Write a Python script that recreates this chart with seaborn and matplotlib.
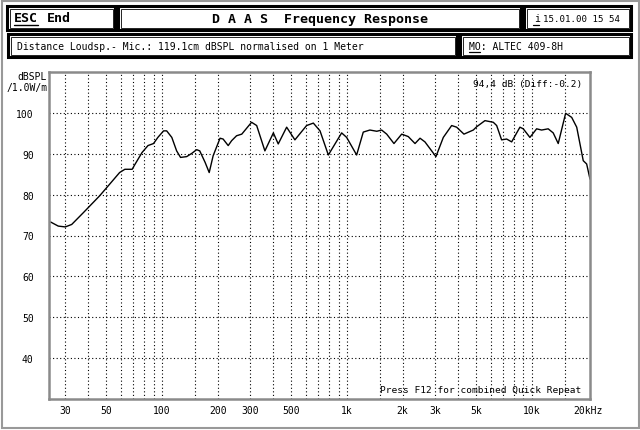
import numpy as np
import pandas as pd
import seaborn as sns
import matplotlib
matplotlib.use("Agg")
import matplotlib.pyplot as plt
from matplotlib.patches import Rectangle

# frequency response
freq_hz = [25, 27.5, 30, 32.5, 37.6, 46, 52, 59, 63, 69, 71, 78, 84, 90, 95,
           102, 106, 113, 120, 126, 136, 145, 154, 160, 171, 180, 189, 206,
           214, 228, 238, 253, 270, 305, 325, 360, 400, 425, 472, 523, 605,
           658, 715, 793, 936, 996, 1128, 1225, 1330, 1450, 1540, 1640, 1795,
           1976, 2145, 2333, 2483, 2640, 3027, 3318, 3681, 3917, 4290, 4818,
           5024, 5571, 6180, 6446, 6855, 7300, 7770, 8610, 8976, 9750, 10600,
           11280, 12240, 13030, 13870, 15210, 16400, 17460, 18940, 19760, 20600]
spl_db = [73.3, 72.3, 72.1, 72.7, 75.6, 79.7, 82.5, 85.4, 86.2, 86.2, 87.2,
          90.3, 92.0, 92.5, 94.0, 95.6, 95.6, 94.0, 90.7, 89.1, 89.3, 90.1,
          91.0, 90.7, 87.9, 85.4, 89.5, 93.8, 93.6, 92.0, 93.2, 94.4, 94.8,
          97.7, 96.9, 90.7, 95.1, 92.4, 96.5, 93.4, 96.9, 97.5, 95.6, 89.7,
          95.1, 94.0, 89.7, 95.3, 95.8, 95.5, 95.8, 94.8, 92.5, 94.8, 94.2,
          92.5, 93.8, 92.9, 89.3, 94.0, 96.9, 96.5, 94.8, 95.8, 96.6, 98.1,
          97.7, 96.9, 93.4, 93.6, 92.9, 96.5, 96.1, 94.0, 96.1, 95.8, 96.1,
          95.1, 92.5, 99.9, 98.9, 96.5, 88.3, 87.5, 83.8]

y_ticks = [40, 50, 60, 70, 80, 90, 100]
x_ticks = [30, 50, 100, 200, 300, 500, 1000, 2000, 3000, 5000, 10000, 20000]
x_tick_labels = ["30", "50", "100", "200", "300", "500", "1k", "2k", "3k",
                 "5k", "10k", "20kHz"]
x_grid = [30, 40, 50, 60, 70, 80, 90, 100, 150, 200, 300, 400, 500, 600, 700,
          800, 900, 1000, 1500, 2000, 3000, 4000, 5000, 6000, 7000, 8000, 9000,
          10000, 15000]

df = pd.DataFrame({"freq": freq_hz, "spl": spl_db})

sns.set_style("white")
plt.rcParams['font.family'] = ['DejaVu Sans Mono', 'DejaVu Sans']
plt.rcParams['text.color'] = 'black'
plt.rcParams['xtick.color'] = 'black'
plt.rcParams['ytick.color'] = 'black'

W, H = 640, 431
fig = plt.figure(figsize=(W / 100, H / 100), dpi=100)
fig.patch.set_facecolor("white")

# overlay in pixel coordinates for the frame boxes
bg = fig.add_axes([0, 0, 1, 1])
bg.set_xlim(0, W)
bg.set_ylim(H, 0)
bg.axis("off")
bg.add_patch(Rectangle((1.5, 1.5), W - 3, H - 3, fill=False, ec="#999999", lw=1.5))

def box(x0, y0, x1, y1):
    bg.add_patch(Rectangle((x0, y0), x1 - x0, y1 - y0, fill=False, ec="black", lw=2.2))
    bg.add_patch(Rectangle((x0 + 2.5, y0 + 2.5), x1 - x0 - 5, y1 - y0 - 5,
                           fill=False, ec="black", lw=0.6))

box(7, 7, 115, 31)
box(118, 7, 521, 31)
box(524, 7, 631, 31)
box(8, 35, 457, 58)
box(460, 35, 631, 58)

bg.text(14, 19, "ESC", fontsize=9.5, fontweight="bold", va="center", ha="left")
bg.plot([14, 38], [26, 26], color="black", lw=1)
bg.text(47, 19, "End", fontsize=9.5, fontweight="bold", va="center", ha="left")
bg.text(320, 19.5, "D A A S  Frequency Response", fontsize=9.5, fontweight="bold",
        va="center", ha="center")
bg.text(534, 19, "i", fontsize=7, va="center", ha="left")
bg.plot([533, 539], [26, 26], color="black", lw=0.9)
bg.text(543, 19, "15.01.00 15 54", fontsize=6.6, va="center", ha="left")
bg.text(17, 46.5, "Distance Loudsp.- Mic.: 119.1cm dBSPL normalised on 1 Meter",
        fontsize=7, va="center", ha="left")
bg.text(469, 46.5, "MO: ALTEC 409-8H", fontsize=7, va="center", ha="left")
bg.plot([469, 480], [53, 53], color="black", lw=0.9)
bg.text(47, 77, "dBSPL", fontsize=7, va="center", ha="right")
bg.text(48, 88, "/1.0W/m", fontsize=7, va="center", ha="right")

# main chart
ax = fig.add_axes([49 / W, 1 - 400 / H, (590 - 49) / W, (400 - 73) / H])
sns.lineplot(data=df, x="freq", y="spl", color="black", lw=1.0, ax=ax)
ax.set_xscale("log")
ax.set_xlim(24.5, 20600)
ax.set_ylim(30, 110)

for v in y_ticks:
    ax.axhline(v, color="black", lw=0.8, ls=(0, (1, 2.2)), zorder=0)
for v in x_grid:
    ax.axvline(v, color="black", lw=0.8, ls=(0, (1, 2.2)), zorder=0)

ax.set_yticks(y_ticks)
ax.set_yticklabels([str(v) for v in y_ticks], fontsize=7)
ax.set_xticks(x_ticks)
ax.set_xticklabels(x_tick_labels, fontsize=7)
ax.minorticks_off()
ax.tick_params(axis="y", length=0, pad=11)
ax.tick_params(axis="x", length=0, pad=4)
ax.set_xlabel("")
ax.set_ylabel("")
for s in ax.spines.values():
    s.set_color("#8a8a8a")
    s.set_linewidth(1.8)

ax.text(0.985, 0.965, "94,4 dB (Diff:-0.2)", transform=ax.transAxes,
        fontsize=6.8, ha="right", va="center")
ax.text(0.612, 0.015, "Press F12 for combined Quick Repeat", transform=ax.transAxes,
        fontsize=6.8, ha="left", va="bottom")

fig.savefig("out.png", dpi=100)
